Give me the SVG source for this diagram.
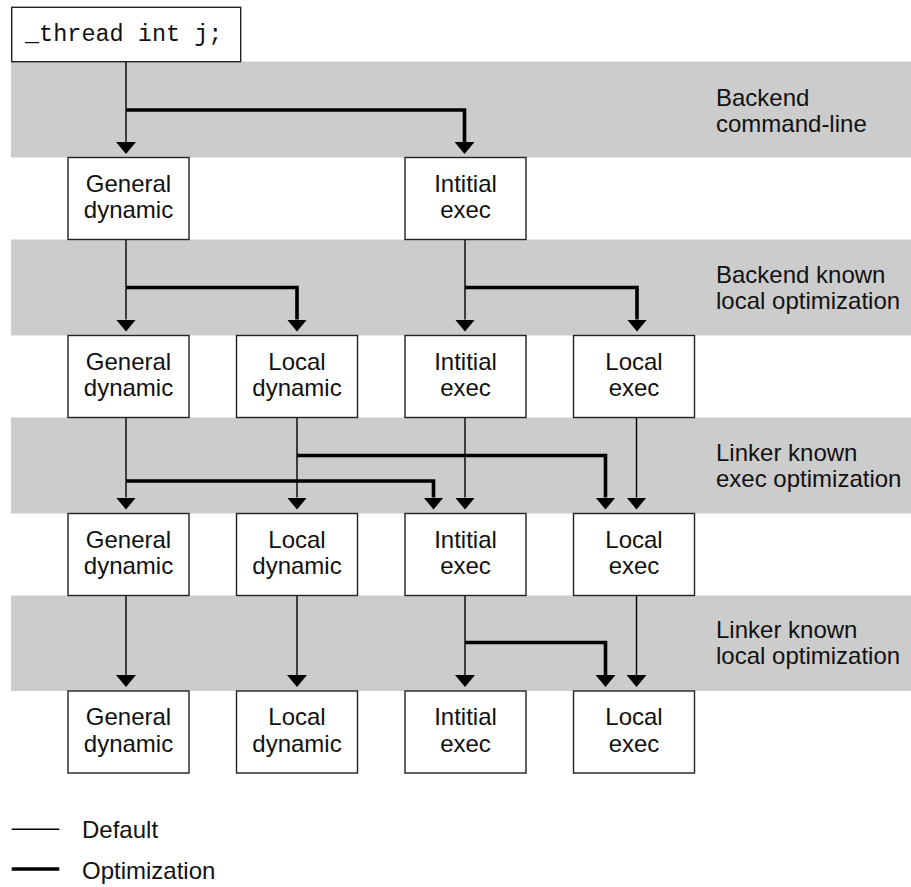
<svg xmlns="http://www.w3.org/2000/svg" width="911" height="887" viewBox="0 0 911 887">
<style>
.band{fill:#cccccc;stroke:none}
.box{fill:#ffffff;stroke:#222222;stroke-width:1.4}
.t{font-family:"Liberation Sans",Arial,Helvetica,sans-serif;font-size:24px;fill:#111111}
.c{text-anchor:middle}
.mono{font-family:"Liberation Mono","Courier New",monospace;font-size:23.5px;fill:#111111}
.thin{fill:none;stroke:#000000;stroke-width:1.4}
.thick{fill:none;stroke:#000000;stroke-width:3.6;stroke-linejoin:miter}
</style>
<defs>
<marker id="ah" markerUnits="userSpaceOnUse" markerWidth="12" markerHeight="20" viewBox="0 0 12 20" refX="0" refY="10" orient="auto">
<path d="M0,0 L12,10 L0,20 z" fill="#000000"/>
</marker>
</defs>

<g id="bands">
<rect class="band" x="11" y="61.5" width="900" height="96"/>
<rect class="band" x="11" y="239.5" width="900" height="96"/>
<rect class="band" x="11" y="417.5" width="900" height="96"/>
<rect class="band" x="11" y="595.5" width="900" height="95.5"/>
<text class="t" x="716" y="106">Backend</text>
<text class="t" x="716" y="132">command-line</text>
<text class="t" x="716" y="283">Backend known</text>
<text class="t" x="716" y="309">local optimization</text>
<text class="t" x="716" y="461">Linker known</text>
<text class="t" x="716" y="487">exec optimization</text>
<text class="t" x="716" y="638">Linker known</text>
<text class="t" x="716" y="664">local optimization</text>
</g>

<g id="connectors">
<path class="thin" d="M126,61.7 V142" marker-end="url(#ah)"/>
<path class="thick" d="M126,110 H464.5 V142" marker-end="url(#ah)"/>

<path class="thin" d="M126,239.5 V319.5" marker-end="url(#ah)"/>
<path class="thick" d="M126,287.5 H297 V319.5" marker-end="url(#ah)"/>
<path class="thin" d="M465,239.5 V319.5" marker-end="url(#ah)"/>
<path class="thick" d="M465,287.5 H637 V319.5" marker-end="url(#ah)"/>

<path class="thin" d="M126,417.5 V497.5" marker-end="url(#ah)"/>
<path class="thin" d="M297,417.5 V497.5" marker-end="url(#ah)"/>
<path class="thin" d="M465,417.5 V497.5" marker-end="url(#ah)"/>
<path class="thin" d="M636.5,417.5 V497.5" marker-end="url(#ah)"/>
<path class="thick" d="M297,455.5 H605.5 V497.5" marker-end="url(#ah)"/>
<path class="thick" d="M126,481 H433.5 V497.5" marker-end="url(#ah)"/>

<path class="thin" d="M126,595.5 V675" marker-end="url(#ah)"/>
<path class="thin" d="M297,595.5 V675" marker-end="url(#ah)"/>
<path class="thin" d="M465,595.5 V675" marker-end="url(#ah)"/>
<path class="thin" d="M636.5,595.5 V675" marker-end="url(#ah)"/>
<path class="thick" d="M465,642.5 H605.5 V675" marker-end="url(#ah)"/>
</g>

<g id="n-root">
<rect class="box" x="11.7" y="7.3" width="229" height="54.4"/>
<text class="mono" x="25" y="41">_thread int j;</text>
</g>

<g id="n-r1-gd">
<rect class="box" x="68" y="157.5" width="121" height="82"/>
<text class="t c" x="128.5" y="191.5">General</text>
<text class="t c" x="128.5" y="218">dynamic</text>
</g>
<g id="n-r1-ie">
<rect class="box" x="405" y="157.5" width="121" height="82"/>
<text class="t c" x="465.5" y="191.5">Intitial</text>
<text class="t c" x="465.5" y="218">exec</text>
</g>

<g id="n-r2-gd">
<rect class="box" x="68" y="335.5" width="121" height="82"/>
<text class="t c" x="128.5" y="369.5">General</text>
<text class="t c" x="128.5" y="396">dynamic</text>
</g>
<g id="n-r2-ld">
<rect class="box" x="236.5" y="335.5" width="121" height="82"/>
<text class="t c" x="297" y="369.5">Local</text>
<text class="t c" x="297" y="396">dynamic</text>
</g>
<g id="n-r2-ie">
<rect class="box" x="405" y="335.5" width="121" height="82"/>
<text class="t c" x="465.5" y="369.5">Intitial</text>
<text class="t c" x="465.5" y="396">exec</text>
</g>
<g id="n-r2-le">
<rect class="box" x="573.5" y="335.5" width="121" height="82"/>
<text class="t c" x="634" y="369.5">Local</text>
<text class="t c" x="634" y="396">exec</text>
</g>

<g id="n-r3-gd">
<rect class="box" x="68" y="513.5" width="121" height="82"/>
<text class="t c" x="128.5" y="547.5">General</text>
<text class="t c" x="128.5" y="574">dynamic</text>
</g>
<g id="n-r3-ld">
<rect class="box" x="236.5" y="513.5" width="121" height="82"/>
<text class="t c" x="297" y="547.5">Local</text>
<text class="t c" x="297" y="574">dynamic</text>
</g>
<g id="n-r3-ie">
<rect class="box" x="405" y="513.5" width="121" height="82"/>
<text class="t c" x="465.5" y="547.5">Intitial</text>
<text class="t c" x="465.5" y="574">exec</text>
</g>
<g id="n-r3-le">
<rect class="box" x="573.5" y="513.5" width="121" height="82"/>
<text class="t c" x="634" y="547.5">Local</text>
<text class="t c" x="634" y="574">exec</text>
</g>

<g id="n-r4-gd">
<rect class="box" x="68" y="691" width="121" height="82"/>
<text class="t c" x="128.5" y="725">General</text>
<text class="t c" x="128.5" y="751.5">dynamic</text>
</g>
<g id="n-r4-ld">
<rect class="box" x="236.5" y="691" width="121" height="82"/>
<text class="t c" x="297" y="725">Local</text>
<text class="t c" x="297" y="751.5">dynamic</text>
</g>
<g id="n-r4-ie">
<rect class="box" x="405" y="691" width="121" height="82"/>
<text class="t c" x="465.5" y="725">Intitial</text>
<text class="t c" x="465.5" y="751.5">exec</text>
</g>
<g id="n-r4-le">
<rect class="box" x="573.5" y="691" width="121" height="82"/>
<text class="t c" x="634" y="725">Local</text>
<text class="t c" x="634" y="751.5">exec</text>
</g>

<g id="legend">
<line class="thin" x1="11.7" y1="829.3" x2="59.3" y2="829.3"/>
<text class="t" x="82" y="838">Default</text>
<line class="thick" x1="11.7" y1="869" x2="59.3" y2="869"/>
<text class="t" x="82" y="878.5">Optimization</text>
</g>
</svg>
